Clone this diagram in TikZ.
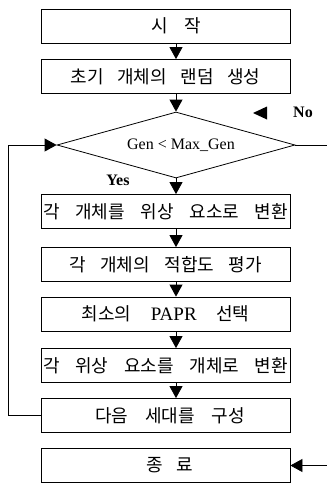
\documentclass[tikz,border=0pt]{standalone}
\usepackage{fontspec}
\setmainfont{Liberation Serif}
\newfontfamily\kr{Noto Sans CJK KR}
\usetikzlibrary{arrows.meta,shapes.geometric}
\begin{document}
\begin{tikzpicture}[x=1pt,y=-1pt,
  box/.style={draw,line width=0.8pt,minimum width=249pt,minimum height=34pt,inner sep=0pt,
    font=\kr\fontsize{18}{18}\selectfont},
  flow/.style={line width=0.8pt,-{Triangle[width=13pt,length=12pt]}},
  lbl/.style={font=\bfseries\fontsize{16}{16}\selectfont,inner sep=0pt},
  cond/.style={draw,diamond,aspect=3.6,minimum width=238pt,minimum height=66pt,inner sep=0pt,line width=0.8pt}]
\useasboundingbox (0,0) rectangle (327,483);
\coordinate (fx) at (176,0);
\coordinate (lp) at (8,0);
\coordinate (rp) at (327,0);
\node[box] (b1) at (165.5,26) {\hspace*{21pt}\makebox[50pt][s]{시 작}};
\node[box] (b2) at (165.5,76.5) {\makebox[190pt][s]{초기 개체의 랜덤 생성}};
\node[cond] (d) at (176,145) {};
\node[inner sep=0pt,font=\fontsize{16}{16}\selectfont] (dt) at (181,145) {Gen < Max\_Gen};
\node[box] (b3) at (165.5,211.5) {\makebox[245pt][s]{각 개체를 위상 요소로 변환}};
\node[box] (b4) at (165.5,264.5) {\makebox[193pt][s]{각 개체의 적합도 평가}};
\node[box] (b5) at (165.5,314) {\makebox[168pt][s]{최소의 {\rmfamily\fontsize{19}{19}\selectfont PAPR} 선택}};
\node[box] (b6) at (165.5,365.5) {\makebox[245pt][s]{각 위상 요소를 개체로 변환}};
\node[box] (b7) at (165.5,415.5) {\hspace*{9pt}\makebox[150pt][s]{다음 세대를 구성}};
\node[box] (b8) at (165.5,465.5) {\hspace*{8pt}\makebox[47pt][s]{종 료}};
\node[lbl] (yes) at (118,180) {Yes};
\node[lbl] (no) at (303,112) {No};
\fill (253,113) -- (267,106.5) -- (267,119.5) -- cycle;
\draw[flow] (b1.south -| fx) -- (b2.north -| fx);
\draw[flow] (b2.south -| fx) -- (d.north);
\draw[flow] (d.south) -- (b3.north -| fx);
\draw[flow] (b3.south -| fx) -- (b4.north -| fx);
\draw[flow] (b4.south -| fx) -- (b5.north -| fx);
\draw[flow] (b5.south -| fx) -- (b6.north -| fx);
\draw[flow] (b6.south -| fx) -- (b7.north -| fx);
\draw[flow] (b7.west) -- (b7.west -| lp) -- (d.west -| lp) -- (d.west);
\draw[flow] (d.east) -- (d.east -| rp) -- (b8.east -| rp) -- (b8.east);
\end{tikzpicture}
\end{document}
